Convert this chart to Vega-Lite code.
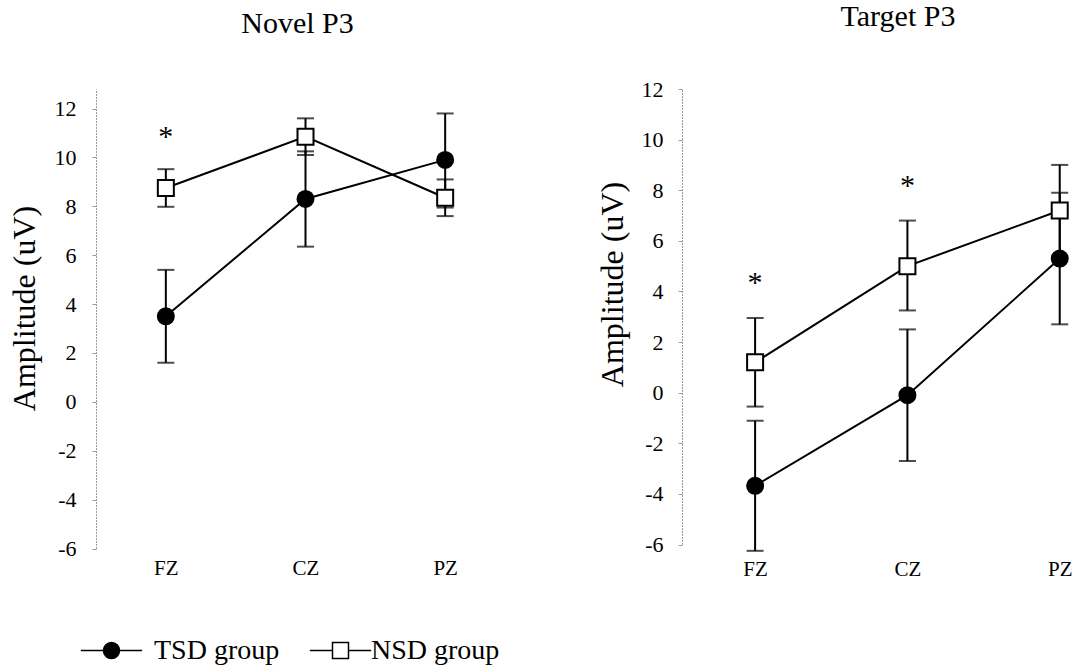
{
  "$schema": "https://vega.github.io/schema/vega-lite/v6.json",
  "background": "white",
  "padding": {"left": 8, "top": 2, "right": 0, "bottom": 4},
  "autosize": {"type": "pad"},
  "bounds": "flush",
  "spacing": 167,
  "config": {
    "view": {"stroke": null},
    "font": "Liberation Serif",
    "axis": {"labelFont": "Liberation Serif", "titleFont": "Liberation Serif", "labelColor": "black", "titleColor": "black", "grid": false, "titleFontWeight": "normal"}
  },
  "datasets": {
    "pts": [
      {"panel": "Novel", "group": "TSD group", "elec": "FZ", "mean": 3.5, "lo": 1.6, "hi": 5.4},
      {"panel": "Novel", "group": "TSD group", "elec": "CZ", "mean": 8.3, "lo": 6.35, "hi": 10.25},
      {"panel": "Novel", "group": "TSD group", "elec": "PZ", "mean": 9.9, "lo": 7.95, "hi": 11.8},
      {"panel": "Novel", "group": "NSD group", "elec": "FZ", "mean": 8.75, "lo": 7.98, "hi": 9.52},
      {"panel": "Novel", "group": "NSD group", "elec": "CZ", "mean": 10.85, "lo": 10.1, "hi": 11.6},
      {"panel": "Novel", "group": "NSD group", "elec": "PZ", "mean": 8.35, "lo": 7.6, "hi": 9.1},
      {"panel": "Target", "group": "TSD group", "elec": "FZ", "mean": -3.68, "lo": -6.25, "hi": -1.11},
      {"panel": "Target", "group": "TSD group", "elec": "CZ", "mean": -0.1, "lo": -2.7, "hi": 2.5},
      {"panel": "Target", "group": "TSD group", "elec": "PZ", "mean": 5.3, "lo": 2.7, "hi": 7.9},
      {"panel": "Target", "group": "NSD group", "elec": "FZ", "mean": 1.2, "lo": -0.55, "hi": 2.95},
      {"panel": "Target", "group": "NSD group", "elec": "CZ", "mean": 5.0, "lo": 3.25, "hi": 6.8},
      {"panel": "Target", "group": "NSD group", "elec": "PZ", "mean": 7.2, "lo": 5.4, "hi": 9.0}
    ],
    "stars": [
      {"panel": "Novel", "elec": "FZ", "val": 11.02, "label": "*"},
      {"panel": "Target", "elec": "FZ", "val": 4.49, "label": "*"},
      {"panel": "Target", "elec": "CZ", "val": 8.31, "label": "*"}
    ]
  },
  "hconcat": [
    {
      "width": 419,
      "height": 459.5,
      "title": {"text": "Novel P3", "fontSize": 30, "font": "Liberation Serif", "fontWeight": "normal", "baseline": "alphabetic", "offset": 26, "dx": -8, "color": "black"},
      "resolve": {"scale": {"opacity": "independent"}, "legend": {"opacity": "independent"}},
      "layer": [
        {
          "data": {"name": "pts"},
          "transform": [{"filter": "datum.panel === 'Novel'"}],
          "mark": {"type": "rule", "color": "black", "strokeWidth": 2},
          "encoding": {
            "x": {"field": "elec", "type": "nominal", "sort": ["FZ", "CZ", "PZ"], "scale": {"type": "point", "padding": 0.5}, "title": null,
                  "axis": {"domain": false, "ticks": false, "labelFontSize": 21, "labelPadding": 9, "labelAngle": 0, "labelColor": "black"}},
            "y": {"field": "lo", "type": "quantitative", "title": "Amplitude (uV)", "scale": {"domain": [-6, 12.8], "nice": false, "zero": false},
                  "axis": {"values": [-6, -4, -2, 0, 2, 4, 6, 8, 10, 12], "labelExpr": "'' + datum.value", "domain": true, "domainColor": "#9a9a9a", "domainDash": [2, 1], "domainWidth": 1, "ticks": true, "tickSize": 4, "tickColor": "#9a9a9a", "tickWidth": 1, "labelFontSize": 22, "labelPadding": 16, "titleFontSize": 32, "titleX": -62, "titleY": 219, "titleBaseline": "alphabetic", "titleAngle": -90, "titleAlign": "center"}},
            "y2": {"field": "hi"}
          }
        },
        {
          "data": {"name": "pts"},
          "transform": [{"filter": "datum.panel === 'Novel'"}],
          "mark": {"type": "tick", "color": "black", "thickness": 2, "size": 17},
          "encoding": {
            "x": {"field": "elec", "type": "nominal", "sort": ["FZ", "CZ", "PZ"]},
            "y": {"field": "lo", "type": "quantitative", "title": "Amplitude (uV)"}
          }
        },
        {
          "data": {"name": "pts"},
          "transform": [{"filter": "datum.panel === 'Novel'"}],
          "mark": {"type": "tick", "color": "black", "thickness": 2, "size": 17},
          "encoding": {
            "x": {"field": "elec", "type": "nominal", "sort": ["FZ", "CZ", "PZ"]},
            "y": {"field": "hi", "type": "quantitative", "title": "Amplitude (uV)"}
          }
        },
        {
          "data": {"name": "pts"},
          "transform": [{"filter": "datum.panel === 'Novel'"}],
          "mark": {"type": "line", "color": "black", "strokeWidth": 2},
          "encoding": {
            "x": {"field": "elec", "type": "nominal", "sort": ["FZ", "CZ", "PZ"]},
            "y": {"field": "mean", "type": "quantitative", "title": "Amplitude (uV)"},
            "detail": {"field": "group"},
            "order": {"value": null}
          }
        },
        {
          "data": {"name": "pts"},
          "transform": [{"filter": "datum.panel === 'Novel' && datum.group === 'TSD group'"}],
          "mark": {"type": "point", "filled": true, "fill": "black", "stroke": "black", "strokeWidth": 2, "size": 256},
          "encoding": {
            "x": {"field": "elec", "type": "nominal", "sort": ["FZ", "CZ", "PZ"]},
            "y": {"field": "mean", "type": "quantitative", "title": "Amplitude (uV)"},
            "opacity": {"field": "group", "type": "ordinal", "scale": {"domain": ["TSD group"], "range": [1]},
                        "legend": {"title": null, "orient": "none", "legendX": 1, "legendY": 547, "symbolSize": 711, "symbolType": "M-2.3,0L-0.6,0M0.6,0L2.3,0M-0.6,0A0.6,0.6,0,1,1,0.6,0A0.6,0.6,0,1,1,-0.6,0Z", "labelFont": "Liberation Serif", "labelFontSize": 28, "labelColor": "black", "labelOffset": 28,
                                   "encode": {"symbols": {
                                     "fill": {"value": "black"},
                                     "stroke": {"value": "black"},
                                     "strokeWidth": {"value": 2}}}}}
          }
        },
        {
          "data": {"name": "pts"},
          "transform": [{"filter": "datum.panel === 'Novel' && datum.group === 'NSD group'"}],
          "mark": {"type": "square", "filled": true, "fill": "white", "stroke": "black", "strokeWidth": 2, "size": 256},
          "encoding": {
            "x": {"field": "elec", "type": "nominal", "sort": ["FZ", "CZ", "PZ"]},
            "y": {"field": "mean", "type": "quantitative", "title": "Amplitude (uV)"},
            "opacity": {"field": "group", "type": "ordinal", "scale": {"domain": ["NSD group"], "range": [1]},
                        "legend": {"title": null, "orient": "none", "legendX": 230, "legendY": 547, "symbolSize": 711, "symbolType": "M-2.3,0L-0.6,0M0.6,0L2.3,0M-0.6,-0.6L0.6,-0.6L0.6,0.6L-0.6,0.6Z", "labelFont": "Liberation Serif", "labelFontSize": 28, "labelColor": "black", "labelOffset": 16,
                                   "encode": {"symbols": {
                                     "fill": {"value": "white"},
                                     "stroke": {"value": "black"},
                                     "strokeWidth": {"value": 2}}}}}
          }
        },
        {
          "data": {"name": "stars"},
          "transform": [{"filter": "datum.panel === 'Novel'"}],
          "mark": {"type": "text", "fontSize": 30, "font": "Liberation Serif", "baseline": "alphabetic", "dy": 13, "color": "black"},
          "encoding": {
            "x": {"field": "elec", "type": "nominal", "sort": ["FZ", "CZ", "PZ"]},
            "y": {"field": "val", "type": "quantitative", "title": "Amplitude (uV)"},
            "text": {"field": "label"}
          }
        }
      ]
    },
    {
      "width": 396,
      "height": 455.5,
      "title": {"text": "Target P3", "fontSize": 30, "font": "Liberation Serif", "fontWeight": "normal", "baseline": "alphabetic", "offset": 22, "dx": 18, "color": "black"},
      "layer": [
        {
          "data": {"name": "pts"},
          "transform": [{"filter": "datum.panel === 'Target'"}],
          "mark": {"type": "rule", "color": "black", "strokeWidth": 2},
          "encoding": {
            "x": {"field": "elec", "type": "nominal", "sort": ["FZ", "CZ", "PZ"], "scale": {"type": "point", "padding": 0.3, "align": 0.8}, "title": null,
                  "axis": {"domain": false, "ticks": false, "labelFontSize": 21, "labelPadding": 14, "labelAngle": 0, "labelColor": "black"}},
            "y": {"field": "lo", "type": "quantitative", "title": "Amplitude (uV)", "scale": {"domain": [-6, 12], "nice": false, "zero": false},
                  "axis": {"values": [-6, -4, -2, 0, 2, 4, 6, 8, 10, 12], "labelExpr": "'' + datum.value", "domain": true, "domainColor": "#9a9a9a", "domainDash": [2, 1], "domainWidth": 1, "ticks": true, "tickSize": 4, "tickColor": "#9a9a9a", "tickWidth": 1, "labelFontSize": 22, "labelPadding": 15, "titleFontSize": 32, "titleX": -60, "titleY": 195, "titleBaseline": "alphabetic", "titleAngle": -90, "titleAlign": "center"}},
            "y2": {"field": "hi"}
          }
        },
        {
          "data": {"name": "pts"},
          "transform": [{"filter": "datum.panel === 'Target'"}],
          "mark": {"type": "tick", "color": "black", "thickness": 2, "size": 17},
          "encoding": {
            "x": {"field": "elec", "type": "nominal", "sort": ["FZ", "CZ", "PZ"]},
            "y": {"field": "lo", "type": "quantitative", "title": "Amplitude (uV)"}
          }
        },
        {
          "data": {"name": "pts"},
          "transform": [{"filter": "datum.panel === 'Target'"}],
          "mark": {"type": "tick", "color": "black", "thickness": 2, "size": 17},
          "encoding": {
            "x": {"field": "elec", "type": "nominal", "sort": ["FZ", "CZ", "PZ"]},
            "y": {"field": "hi", "type": "quantitative", "title": "Amplitude (uV)"}
          }
        },
        {
          "data": {"name": "pts"},
          "transform": [{"filter": "datum.panel === 'Target'"}],
          "mark": {"type": "line", "color": "black", "strokeWidth": 2},
          "encoding": {
            "x": {"field": "elec", "type": "nominal", "sort": ["FZ", "CZ", "PZ"]},
            "y": {"field": "mean", "type": "quantitative", "title": "Amplitude (uV)"},
            "detail": {"field": "group"},
            "order": {"value": null}
          }
        },
        {
          "data": {"name": "pts"},
          "transform": [{"filter": "datum.panel === 'Target' && datum.group === 'TSD group'"}],
          "mark": {"type": "point", "filled": true, "fill": "black", "stroke": "black", "strokeWidth": 2, "size": 256, "opacity": 1},
          "encoding": {
            "x": {"field": "elec", "type": "nominal", "sort": ["FZ", "CZ", "PZ"]},
            "y": {"field": "mean", "type": "quantitative", "title": "Amplitude (uV)"}
          }
        },
        {
          "data": {"name": "pts"},
          "transform": [{"filter": "datum.panel === 'Target' && datum.group === 'NSD group'"}],
          "mark": {"type": "square", "filled": true, "fill": "white", "stroke": "black", "strokeWidth": 2, "size": 256, "opacity": 1},
          "encoding": {
            "x": {"field": "elec", "type": "nominal", "sort": ["FZ", "CZ", "PZ"]},
            "y": {"field": "mean", "type": "quantitative", "title": "Amplitude (uV)"}
          }
        },
        {
          "data": {"name": "stars"},
          "transform": [{"filter": "datum.panel === 'Target'"}],
          "mark": {"type": "text", "fontSize": 30, "font": "Liberation Serif", "baseline": "alphabetic", "dy": 13, "color": "black"},
          "encoding": {
            "x": {"field": "elec", "type": "nominal", "sort": ["FZ", "CZ", "PZ"]},
            "y": {"field": "val", "type": "quantitative", "title": "Amplitude (uV)"},
            "text": {"field": "label"}
          }
        }
      ]
    }
  ]
}
